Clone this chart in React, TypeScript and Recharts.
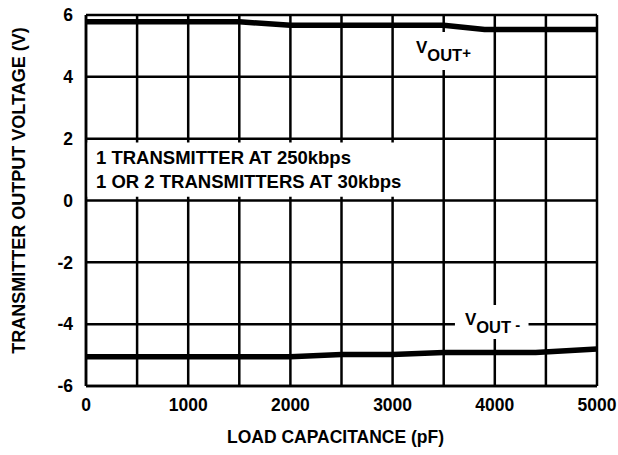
import { CartesianGrid, Line, LineChart, ReferenceArea, XAxis, YAxis } from "recharts";

const loadPf = [0, 1500, 2000, 2500, 3000, 3500, 3900, 4400, 5000];
const voutPlus = [5.78, 5.78, 5.67, 5.67, 5.67, 5.67, 5.53, 5.53, 5.53];
const voutMinus = [-5.05, -5.05, -5.05, -4.98, -4.98, -4.92, -4.92, -4.92, -4.8];
const xTicks = [0, 500, 1000, 1500, 2000, 2500, 3000, 3500, 4000, 4500, 5000];
const yTicks = [-6, -4, -2, 0, 2, 4, 6];
const noteLines = ["1 TRANSMITTER AT 250kbps", "1 OR 2 TRANSMITTERS AT 30kbps"];

const data = loadPf.map((x, i) => ({ x, plus: voutPlus[i], minus: voutMinus[i] }));

const FONT = "'Liberation Sans', Arial, sans-serif";
const tickStyle = { fill: "#000", fontSize: 17.5, fontWeight: 700, fontFamily: FONT };

function NoteLabel({ viewBox }: any) {
  return (
    <text fontFamily={FONT} fontSize={18.5} fontWeight={700} fill="#000">
      {noteLines.map((t, i) => (
        <tspan key={t} x={viewBox.x + 10} y={viewBox.y + 22 + i * 24}>
          {t}
        </tspan>
      ))}
    </text>
  );
}

function VoutLabel({ viewBox, sign, dx, dy }: any) {
  return (
    <text x={viewBox.x + dx} y={viewBox.y + dy} fontFamily={FONT} fontWeight={700} fill="#000">
      <tspan fontSize={17}>V</tspan>
      <tspan fontSize={16.5} dy={8}>OUT</tspan>
      <tspan fontSize={15} dy={-3}>{sign}</tspan>
    </text>
  );
}

function YTitle({ viewBox }: any) {
  const x = 25;
  const y = viewBox.y + viewBox.height / 2 - 10;
  return (
    <text x={x} y={y} transform={`rotate(-90, ${x}, ${y})`} textAnchor="middle" fontFamily={FONT} fontSize={18} fontWeight={700} fill="#000">
      TRANSMITTER OUTPUT VOLTAGE (V)
    </text>
  );
}

export default function App() {
  return (
    <div style={{ position: "absolute", left: 0, top: 0 }}>
      <LineChart width={618} height={455} data={data} margin={{ top: 15, right: 21, left: 0, bottom: 0 }} style={{ fontFamily: FONT }}>
        <CartesianGrid stroke="#000" strokeWidth={2.5} />
        <XAxis
          dataKey="x"
          type="number"
          domain={[0, 5000]}
          ticks={xTicks}
          interval={0}
          tickFormatter={(v: number) => (v % 1000 === 0 ? String(v) : "")}
          tick={tickStyle}
          tickLine={false}
          tickSize={0}
          tickMargin={13}
          axisLine={{ stroke: "#000", strokeWidth: 2.5 }}
          height={69}
          label={{ value: "LOAD CAPACITANCE (pF)", position: "insideBottom", offset: 12, dx: -6, fill: "#000", fontSize: 17.5, fontWeight: 700 }}
        />
        <YAxis
          type="number"
          domain={[-6, 6]}
          ticks={yTicks}
          interval={0}
          tick={tickStyle}
          tickLine={false}
          tickSize={0}
          tickMargin={13}
          axisLine={{ stroke: "#000", strokeWidth: 2.5 }}
          width={86}
          label={<YTitle />}
        />
        <ReferenceArea x1={0} x2={3130} y1={0.12} y2={1.88} fill="#fff" fillOpacity={1} stroke="none" label={<NoteLabel />} />
        <ReferenceArea x1={3190} x2={3810} y1={4.22} y2={5.45} fill="#fff" fillOpacity={1} stroke="none" label={<VoutLabel sign="+" dx={4} dy={21} />} />
        <ReferenceArea x1={3610} x2={4330} y1={-4.48} y2={-3.38} fill="#fff" fillOpacity={1} stroke="none" label={<VoutLabel sign=" -" dx={10} dy={20} />} />
        <Line type="linear" dataKey="plus" stroke="#000" strokeWidth={5.5} dot={false} isAnimationActive={false} />
        <Line type="linear" dataKey="minus" stroke="#000" strokeWidth={5.5} dot={false} isAnimationActive={false} />
      </LineChart>
    </div>
  );
}
